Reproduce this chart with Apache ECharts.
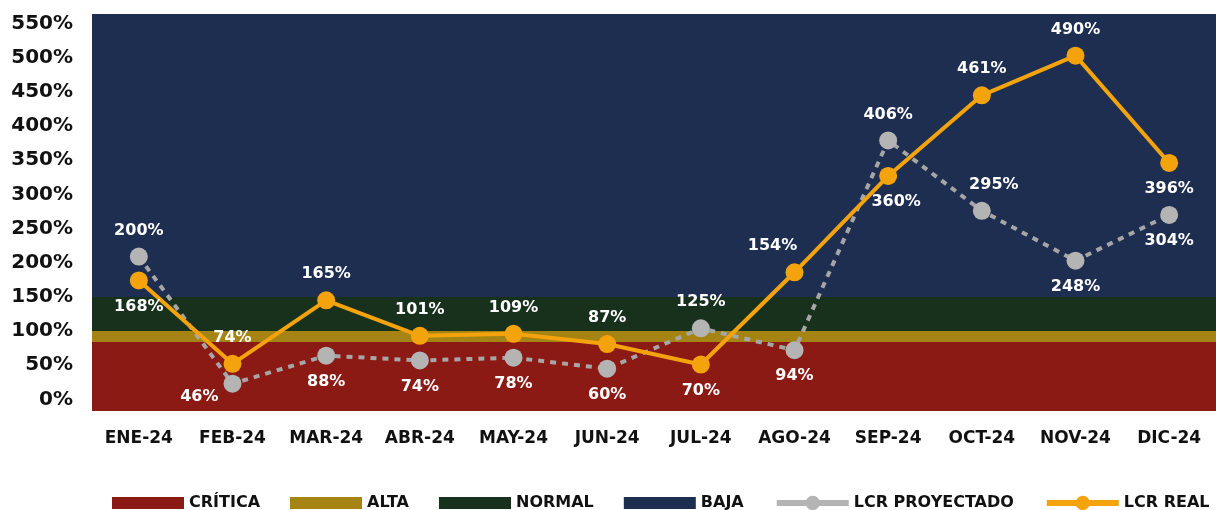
<!DOCTYPE html>
<html>
<head>
<meta charset="utf-8">
<script src="https://cdn.jsdelivr.net/npm/echarts@6/dist/echarts.min.js"></script>
<style>
html,body{margin:0;padding:0;background:#fff;}
#c{width:1216px;height:510px;}
</style>
</head>
<body>
<div id="c"></div>
<script>
// ---- data ----
const months = ['ENE-24','FEB-24','MAR-24','ABR-24','MAY-24','JUN-24','JUL-24','AGO-24','SEP-24','OCT-24','NOV-24','DIC-24'];
const yTicks = [0,50,100,150,200,250,300,350,400,450,500,550];
// plotted values
const lcrProyectado = [209, 23, 64, 57, 61, 45, 104, 72, 379, 276, 203, 270];
const lcrReal = [174, 52, 145, 93, 96, 81, 51, 186, 327, 445, 503, 346];
// printed data labels
const lcrProyectadoLabels = ['200%','46%','88%','74%','78%','60%','125%','94%','406%','295%','248%','304%'];
const lcrRealLabels = ['168%','74%','165%','101%','109%','87%','70%','154%','360%','461%','490%','396%'];
// risk bands (lower/upper limits, %)
const bandNames = ['CRÍTICA','ALTA','NORMAL','BAJA'];
const bandLimits = [-17, 84, 100, 150, 564];

// ---- styles ----
const bandColors = ['#8B1914','#A58414','#18311D','#1D2E50'];
const projLabelPos = ['top','left','bottom','bottom','bottom','bottom','top','bottom','top','top','bottom','bottom'];
const projLabelShift = [[0,0],[4,13],[0,0],[0,0],[0,0],[0,0],[0,0],[0,0],[0,0],[12,0],[0,0],[0,0]];
const realLabelPos = ['bottom','top','top','top','top','top','bottom','top','bottom','top','top','bottom'];
const realLabelShift = [[0,0],[0,0],[0,0],[0,0],[0,0],[0,0],[0,0],[-22,0],[8,0],[0,0],[0,0],[0,0]];

const FONT = '"DejaVu Sans", sans-serif';

function buildPoints(values, pos, shift){
  return values.map((v,i)=>({
    value: v,
    label: { position: pos[i], offset: shift[i] }
  }));
}

const bandSeries = bandNames.map((n,i)=>({
  name: n,
  type: 'line',
  data: [],
  itemStyle: {color: bandColors[i]},
  lineStyle: {color: bandColors[i]},
  markArea: {
    silent: true,
    itemStyle: {color: bandColors[i], opacity: 1},
    data: [[{yAxis: bandLimits[i]}, {yAxis: bandLimits[i+1]}]]
  },
  z: 1
}));

const labelBase = {
  show: true,
  color: '#ffffff',
  fontFamily: FONT,
  fontWeight: 'bold',
  fontSize: 16,
  distance: 9
};

const chart = echarts.init(document.getElementById('c'), null, {renderer:'canvas'});
chart.setOption({
  animation: false,
  backgroundColor: '#ffffff',
  grid: {left: 92, right: 0, top: 14, bottom: 99, containLabel: false},
  xAxis: {
    type: 'category',
    data: months,
    boundaryGap: true,
    axisLine: {show: false},
    axisTick: {show: false},
    axisLabel: {color: '#111', fontFamily: FONT, fontWeight: 'bold', fontSize: 17, margin: 19, interval: 0},
    splitLine: {show: false}
  },
  yAxis: {
    type: 'value',
    min: bandLimits[0],
    max: bandLimits[bandLimits.length-1],
    axisLine: {show: false},
    axisTick: {show: false},
    splitLine: {show: false},
    axisLabel: {
      customValues: yTicks,
      formatter: '{value}%',
      color: '#111', fontFamily: FONT, fontWeight: 'bold', fontSize: 20, margin: 19
    }
  },
  legend: {
    left: 112,
    top: 495,
    width: 1104,
    padding: 0,
    itemWidth: 72,
    itemHeight: 18,
    itemGap: 30,
    symbolKeepAspect: true,
    lineStyle: {width: 6, type: 'solid'},
    textStyle: {color: '#111', fontFamily: FONT, fontWeight: 'bold', fontSize: 16},
    data: [
      ...bandNames.map(n=>({name: n, icon: 'path://M0,0 L72,0 L72,12 L0,12 Z'})),
      {name: 'LCR PROYECTADO', lineStyle: {width: 6, type: 'solid', color: '#B4B4B4'}},
      {name: 'LCR REAL', lineStyle: {width: 6, type: 'solid', color: '#F5A30C'}}
    ]
  },
  series: [
    ...bandSeries,
    {
      name: 'LCR PROYECTADO',
      type: 'line',
      data: buildPoints(lcrProyectado, projLabelPos, projLabelShift),
      symbol: 'circle',
      symbolSize: 18,
      itemStyle: {color: '#B4B4B4'},
      lineStyle: {color: '#A6A6A6', width: 4, type: [6,6]},
      label: Object.assign({}, labelBase, {formatter: p => lcrProyectadoLabels[p.dataIndex]}),
      z: 3
    },
    {
      name: 'LCR REAL',
      type: 'line',
      data: buildPoints(lcrReal, realLabelPos, realLabelShift),
      symbol: 'circle',
      symbolSize: 18,
      itemStyle: {color: '#F5A30C'},
      lineStyle: {color: '#F5A30C', width: 4},
      label: Object.assign({}, labelBase, {formatter: p => lcrRealLabels[p.dataIndex]}),
      z: 4
    }
  ]
});
</script>
</body>
</html>
